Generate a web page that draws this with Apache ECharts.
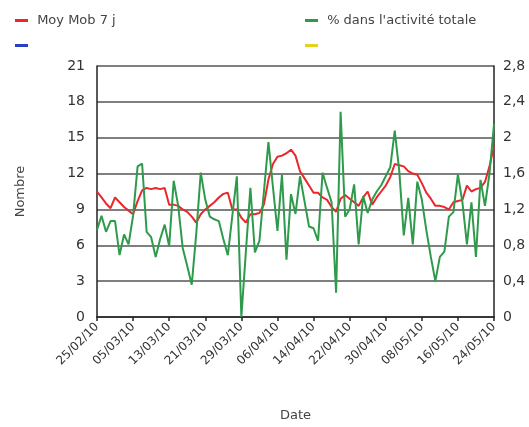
<!DOCTYPE html>
<html><head><meta charset="utf-8">
<script src="https://cdn.jsdelivr.net/npm/echarts@6/dist/echarts.min.js"></script>
<style>html,body{margin:0;padding:0;background:#fff}#c{width:529px;height:427px}</style>
</head><body><div id="c"></div>
<script>
// Dates: 25/02/10 .. 24/05/10 (daily)
const startDate = [2010, 1, 25];
const dayCount = 89;
const dates = [];
for (let i = 0; i < dayCount; i++) {
  const d = new Date(Date.UTC(startDate[0], startDate[1], startDate[2] + i));
  const dd = String(d.getUTCDate()).padStart(2, '0');
  const mm = String(d.getUTCMonth() + 1).padStart(2, '0');
  dates.push(dd + '/' + mm + '/10');
}
// Moyenne mobile 7 jours (left axis, Nombre)
const moyMob = [
  10.5, 10.0, 9.5, 9.1, 10.0, 9.6, 9.2, 8.9, 8.6, 9.7,
  10.6, 10.8, 10.7, 10.8, 10.7, 10.8, 9.4, 9.4, 9.3, 9.0,
  8.8, 8.4, 7.9, 8.6, 9.0, 9.3, 9.6, 10.0, 10.3, 10.4,
  9.0, 9.0, 8.3, 7.9, 8.6, 8.6, 8.7, 9.4, 11.5, 12.8,
  13.4, 13.5, 13.7, 14.0, 13.5, 12.2, 11.6, 11.0, 10.4, 10.4,
  10.0, 9.8, 9.2, 8.8, 9.9, 10.2, 9.9, 9.6, 9.3, 10.0,
  10.5, 9.4, 10.0, 10.5, 11.0, 11.7, 12.8, 12.7, 12.6, 12.2,
  12.0, 11.9, 11.2, 10.4, 9.9, 9.3, 9.3, 9.2, 9.0, 9.6,
  9.7, 9.8, 11.0, 10.5, 10.7, 10.8, 11.3, 12.6, 14.3
];
// % dans l'activité totale (right axis)
const pctActivite = [
  0.97, 1.13, 0.95, 1.07, 1.07, 0.69, 0.92, 0.81, 1.13, 1.68,
  1.71, 0.95, 0.89, 0.67, 0.87, 1.03, 0.79, 1.52, 1.24, 0.77,
  0.57, 0.36, 0.93, 1.61, 1.31, 1.12, 1.09, 1.07, 0.87, 0.69,
  1.13, 1.57, 0.00, 0.73, 1.44, 0.72, 0.85, 1.40, 1.95, 1.45,
  0.96, 1.59, 0.64, 1.37, 1.15, 1.57, 1.29, 1.01, 0.99, 0.85,
  1.61, 1.44, 1.28, 0.27, 2.29, 1.12, 1.20, 1.48, 0.81, 1.35,
  1.16, 1.31, 1.40, 1.47, 1.57, 1.67, 2.08, 1.63, 0.91, 1.33,
  0.81, 1.51, 1.31, 0.97, 0.67, 0.40, 0.67, 0.73, 1.12, 1.17,
  1.59, 1.28, 0.81, 1.28, 0.67, 1.53, 1.24, 1.60, 2.15
];
const blankSeriesA = [];
const blankSeriesB = [];
const nameRed = 'Moy Mob 7 j';
const nameGreen = "% dans l'activité totale";
const nameBlue = ' ';
const nameYellow = '  ';

const FONT = 'DejaVu Sans';
const chart = echarts.init(document.getElementById('c'), null, {renderer: 'canvas'});
const legendCommon = {
  orient: 'vertical', itemWidth: 13, itemHeight: 3, itemGap: 12, icon: 'rect',
  formatter: n => ' ' + n,
  textStyle: {fontFamily: FONT, fontSize: 13, color: '#444'}, selectedMode: false
};
chart.setOption({
  animation: false,
  backgroundColor: '#fff',
  legend: [
    Object.assign({left: 10, top: 9, data: [nameRed, nameBlue]}, legendCommon),
    Object.assign({left: 300, top: 9, data: [nameGreen, nameYellow]}, legendCommon)
  ],
  grid: {left: 97, right: 35, top: 66, bottom: 109},
  xAxis: {
    type: 'category', data: dates, boundaryGap: false,
    name: 'Date', nameLocation: 'middle', nameGap: 92,
    nameTextStyle: {fontFamily: FONT, fontSize: 13, color: '#444'},
    axisLine: {lineStyle: {color: '#222', width: 1.5}},
    axisTick: {interval: 7, length: 4, lineStyle: {color: '#222', width: 1.5}},
    axisLabel: {interval: 7, rotate: 45, fontFamily: FONT, fontSize: 12, color: '#333', margin: 8},
    splitLine: {show: false}
  },
  yAxis: [
    {
      type: 'value', min: 0, max: 21, interval: 3, position: 'left',
      name: 'Nombre', nameLocation: 'middle', nameGap: 70, nameRotate: 90,
      nameTextStyle: {fontFamily: FONT, fontSize: 13, color: '#444'},
      axisLine: {show: true, lineStyle: {color: '#222', width: 1.5}},
      axisTick: {show: false},
      axisLabel: {fontFamily: FONT, fontSize: 14, color: '#333', margin: 12},
      splitLine: {lineStyle: {color: '#555', width: 1.5}}
    },
    {
      type: 'value', min: 0, max: 2.8, interval: 0.4, position: 'right',
      axisLine: {show: true, lineStyle: {color: '#222', width: 1.5}},
      axisTick: {show: false},
      axisLabel: {fontFamily: FONT, fontSize: 14, color: '#333', margin: 9,
        formatter: v => String(+v.toFixed(1)).replace('.', ',')},
      splitLine: {show: false}
    }
  ],
  series: [
    {name: nameRed, type: 'line', yAxisIndex: 0, data: moyMob, showSymbol: false,
      lineStyle: {color: '#e8282c', width: 2}, itemStyle: {color: '#e8282c'}, z: 3},
    {name: nameBlue, type: 'line', yAxisIndex: 0, data: blankSeriesA, showSymbol: false,
      lineStyle: {color: '#2a3fc4', width: 2}, itemStyle: {color: '#2a3fc4'}},
    {name: nameGreen, type: 'line', yAxisIndex: 1, data: pctActivite, showSymbol: false,
      lineStyle: {color: '#2f9a4c', width: 2}, itemStyle: {color: '#2f9a4c'}, z: 4},
    {name: nameYellow, type: 'line', yAxisIndex: 1, data: blankSeriesB, showSymbol: false,
      lineStyle: {color: '#e6d21a', width: 2}, itemStyle: {color: '#e6d21a'}}
  ]
});
</script></body></html>
